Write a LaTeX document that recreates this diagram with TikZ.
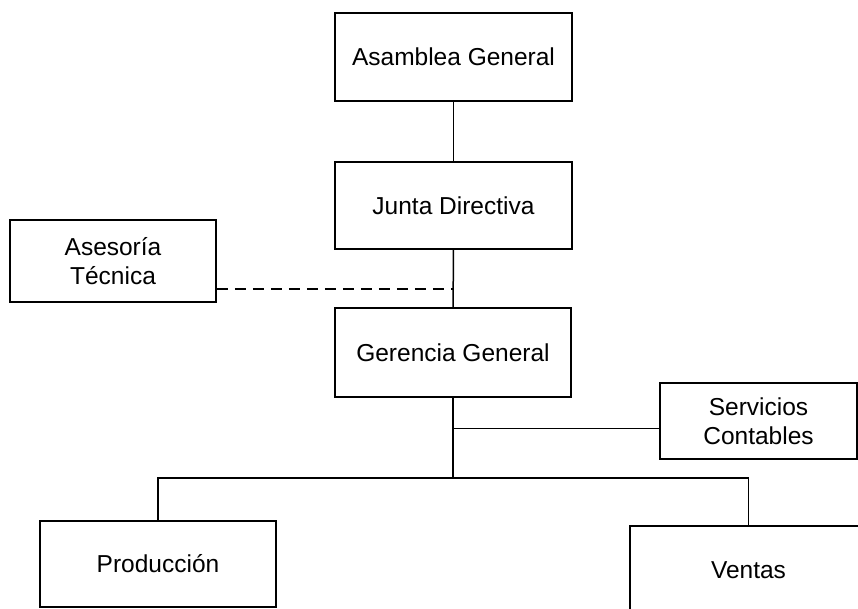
\documentclass[tikz,border=0pt]{standalone}
\usepackage{fontspec}
\setmainfont{Liberation Sans}
\usepackage{tikz}
\tikzset{>=latex}

\begin{document}
\begin{tikzpicture}[x=1pt,y=-1pt,line width=1.5pt,
  unidad/.style={draw,rectangle,inner sep=0pt,align=center,
    font=\fontsize{24.5}{29.5}\selectfont},
  asesor/.style={dashed,dash pattern=on 11pt off 7pt}]
  \useasboundingbox (0,0) rectangle (858,609);
  \clip (0,0) rectangle (858,609);
  \node[unidad,minimum width=237pt,minimum height=88pt] (asamblea) at (453.5,57) {Asamblea General};
  \node[unidad,minimum width=237pt,minimum height=87pt] (junta) at (453.5,205.5) {Junta Directiva};
  \node[unidad,minimum width=236pt,minimum height=89pt] (gerencia) at (453,352.5) {Gerencia General};
  \node[unidad,minimum width=206pt,minimum height=82pt] (asesoria) at (113,261) {Asesoría\\Técnica};
  \node[unidad,minimum width=197pt,minimum height=76pt] (servicios) at (758.5,421) {Servicios\\Contables};
  \node[unidad,minimum width=236pt,minimum height=86pt] (produccion) at (158,564) {Producción};
  \node[unidad,minimum width=237pt,minimum height=88pt] (ventas) at (748.5,570) {Ventas};
  \coordinate (tapase) at (453,289);
  \coordinate (tapserv) at (453,428.5);
  \coordinate (bus) at (453,478);
  \draw (asamblea) -- (junta);
  \draw (junta) -- (gerencia);
  \draw[asesor] (asesoria.east |- tapase) -- (tapase);
  \draw (gerencia) -- (bus);
  \draw (tapserv) -- (tapserv -| servicios.west);
  \draw (produccion.north) |- (bus) -| (ventas.north);
\end{tikzpicture}
\end{document}
